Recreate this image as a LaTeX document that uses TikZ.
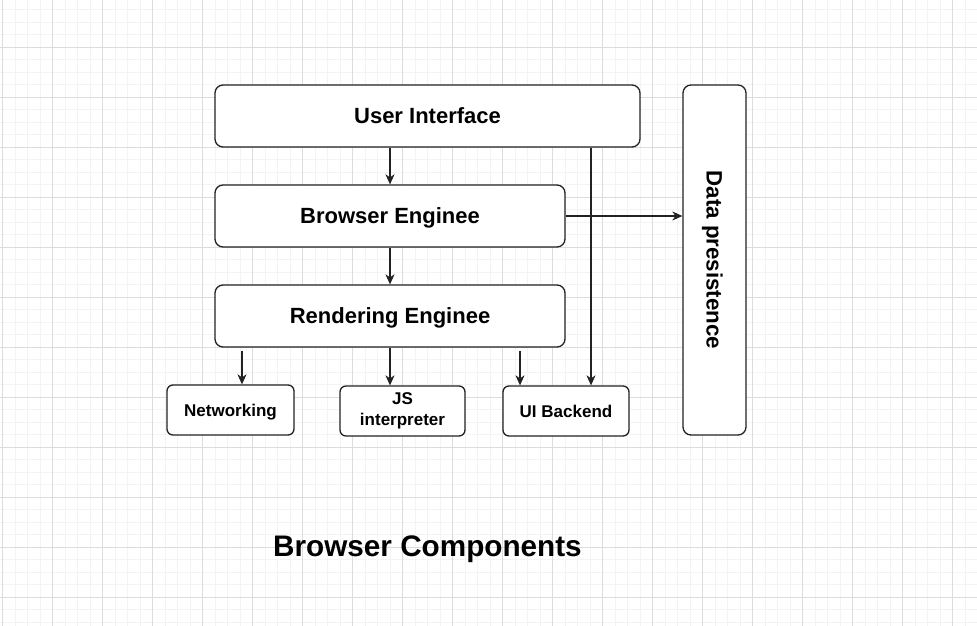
\documentclass[tikz,border=0pt]{standalone}
\usepackage{fontspec}
\setmainfont{Liberation Sans}
\usetikzlibrary{arrows.meta,calc}
\definecolor{gridminor}{HTML}{F3F3F3}
\definecolor{gridmajor}{HTML}{DCDCDC}
\definecolor{edge}{HTML}{222222}
\tikzset{
  box/.style={draw=edge, line width=1.3pt, rounded corners=8pt, fill=white, inner sep=0pt, align=center, text height=15.8pt, text depth=0pt, font=\fontsize{22}{26}\selectfont\bfseries},
  smallbox/.style={box, rounded corners=6pt, text height=12.2pt, font=\fontsize{17}{20}\selectfont\bfseries},
  conn/.style={draw=edge, line width=1.1pt, -{Stealth[length=10pt,width=9pt,inset=3pt]}},
}
\begin{document}
\begin{tikzpicture}[x=1pt,y=-1pt]
\useasboundingbox (0,0) rectangle (977,626);
\fill[white] (0,0) rectangle (977,626);
% grid
\foreach \i in {0,...,78} {\draw[gridminor, line width=0.9pt] ({2.5+12.5*\i},0) -- ({2.5+12.5*\i},626);}
\foreach \i in {-3,...,50} {\draw[gridminor, line width=0.9pt] (0,{47.3+12.5*\i}) -- (977,{47.3+12.5*\i});}
\foreach \i in {0,...,19} {\draw[gridmajor, line width=0.9pt] ({2.5+50*\i},0) -- ({2.5+50*\i},626);}
\foreach \i in {0,...,11} {\draw[gridmajor, line width=0.9pt] (0,{47.3+50*\i}) -- (977,{47.3+50*\i});}
% nodes
\node[box, minimum width=425pt, minimum height=62pt] (ui) at (427.5,116) {User Interface};
\node[box, minimum width=350pt, minimum height=62pt] (be) at (390,216) {Browser Enginee};
\node[box, minimum width=350pt, minimum height=62pt] (re) at (390,316) {Rendering Enginee};
\node[smallbox, minimum width=127pt, minimum height=50pt] (net) at (230.5,410) {Networking};
\node[smallbox, minimum width=125pt, minimum height=50pt, text height=, text depth=, font=\fontsize{17}{21}\selectfont\bfseries] (js) at (402.5,411) {JS\\interpreter};
\node[smallbox, minimum width=126pt, minimum height=50pt] (uib) at (566,411) {UI Backend};
\node[box, minimum width=63pt, minimum height=350pt] (dp) at (714.5,260) {};
\node[rotate=-90, text height=16pt, text depth=0pt, inner sep=0pt, font=\fontsize{22.3}{26}\selectfont\bfseries] (dpt) at (dp.center) {Data presistence};
\node[text height=21.3pt, text depth=0pt, inner sep=0pt, font=\fontsize{29.7}{34}\selectfont\bfseries] (title) at (427.5,546) {Browser Components};
% connectors
\coordinate (uidown) at ($(uib.north)+(25,0)$);
\coordinate (netin) at ($(net.north)+(11.5,0)$);
\coordinate (jsin) at ($(js.north)+(-12.5,0)$);
\coordinate (uibin) at ($(uib.north)+(-46,0)$);
\draw[conn] (be.north |- ui.south) -- (be.north);
\draw[conn] (be.south) -- (re.north);
\draw[conn] (uidown |- ui.south) -- (uidown);
\draw[conn] (be.east) -- (be.east -| dp.west);
\draw[conn] ($(netin |- re.south)+(0,3)$) -- (netin);
\draw[conn] (jsin |- re.south) -- (jsin);
\draw[conn] ($(uibin |- re.south)+(0,3)$) -- (uibin);
\end{tikzpicture}
\end{document}
